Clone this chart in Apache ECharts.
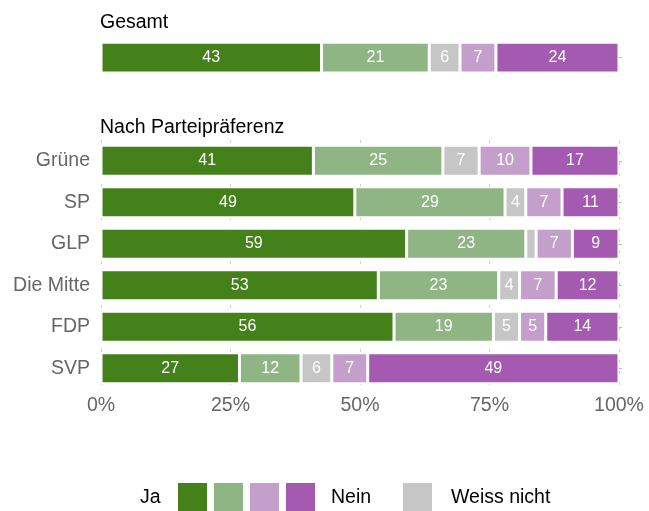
<!DOCTYPE html>
<html><head><meta charset="utf-8">
<script src="https://cdn.jsdelivr.net/npm/echarts@6/dist/echarts.min.js"></script>
<style>html,body{margin:0;padding:0;background:#fff}#c{width:649px;height:511px}</style>
</head><body><div id="c"></div>
<script>
const groupNames = ['Ja', 'eher Ja', 'Weiss nicht', 'eher Nein', 'Nein'];
const colors = ['#44811a', '#8fb584', '#c6c6c6', '#c59fcb', '#a35ab0'];
const totalCategories = ['Gesamt'];
const totalValues = [[43], [21], [6], [7], [24]];
const partyCategories = ['Grüne', 'SP', 'GLP', 'Die Mitte', 'FDP', 'SVP'];
const partyValues = [
  [41, 49, 59, 53, 56, 27],
  [25, 29, 23, 23, 19, 12],
  [7, 4, 2, 4, 5, 6],
  [10, 7, 7, 7, 5, 7],
  [17, 11, 9, 12, 14, 49]
];
const xTicks = [0, 25, 50, 75, 100];

const FONT = '"Liberation Sans", Arial, sans-serif';
const FS = 19.5;
function shares(vals) {
  const n = vals[0].length;
  const sums = [];
  for (let i = 0; i < n; i++) { let s = 0; vals.forEach(v => s += v[i]); sums.push(s); }
  return vals.map(v => v.map((x, i) => ({ value: x / sums[i] * 100, raw: x })));
}
function makeSeries(vals, idx) {
  const sh = shares(vals);
  return sh.map((d, k) => ({
    name: groupNames[k], type: 'bar', stack: 's' + idx,
    xAxisIndex: idx, yAxisIndex: idx * 2,
    barCategoryGap: '25%',
    itemStyle: { color: colors[k], borderColor: '#fff', borderWidth: 1.5 },
    label: { show: true, position: 'inside', color: '#fff', fontSize: 16, fontFamily: FONT,
      formatter: p => p.data.raw >= 3 ? String(p.data.raw) : '' },
    data: d
  }));
}
function xAxis(grid, showLabels) {
  return {
    type: 'value', gridIndex: grid, min: xTicks[0], max: xTicks[xTicks.length - 1], interval: 25,
    axisLine: { show: false }, axisTick: { show: false },
    axisLabel: { show: showLabels, formatter: '{value}%', color: '#666', fontSize: FS, fontFamily: FONT, margin: 7 },
    splitLine: { show: showLabels, lineStyle: { color: '#cfcfcf', type: [3, 8], width: 1 } }
  };
}
function yAxes(grid, cats) {
  return [{
    type: 'category', gridIndex: grid, data: cats, inverse: true,
    axisLine: { show: false }, axisTick: { show: false },
    axisLabel: { show: grid === 1, color: '#666', fontSize: FS, fontFamily: FONT, margin: 11 }
  }, {
    type: 'category', gridIndex: grid, data: cats, inverse: true, position: 'right',
    axisLine: { show: false }, axisLabel: { show: false },
    axisTick: { show: true, length: 3, alignWithLabel: true, lineStyle: { color: '#bbb' } }
  }];
}
const chart = echarts.init(document.getElementById('c'));
const legendItems = [];
const sq = [178, 214, 250, 286];
const sqColors = [colors[0], colors[1], colors[3], colors[4]];
sq.forEach((x, i) => legendItems.push({ type: 'rect', shape: { x: x, y: 483, width: 29, height: 29 }, style: { fill: sqColors[i] } }));
legendItems.push({ type: 'rect', shape: { x: 403, y: 483, width: 29, height: 29 }, style: { fill: colors[2] } });
legendItems.push({ type: 'text', x: 140, y: 498, style: { text: 'Ja', fill: '#000', fontSize: FS, fontFamily: FONT, verticalAlign: 'middle' } });
legendItems.push({ type: 'text', x: 331, y: 498, style: { text: 'Nein', fill: '#000', fontSize: FS, fontFamily: FONT, verticalAlign: 'middle' } });
legendItems.push({ type: 'text', x: 451, y: 498, style: { text: 'Weiss nicht', fill: '#000', fontSize: FS, fontFamily: FONT, verticalAlign: 'middle' } });

chart.setOption({
  animation: false,
  title: [
    { text: 'Gesamt', left: 95, top: 8, textStyle: { fontSize: FS, fontWeight: 'normal', color: '#000', fontFamily: FONT } },
    { text: 'Nach Parteipräferenz', left: 95, top: 113, textStyle: { fontSize: FS, fontWeight: 'normal', color: '#000', fontFamily: FONT } }
  ],
  grid: [
    { left: 101, right: 30, top: 37, height: 41 },
    { left: 101, right: 30, top: 140, height: 249 }
  ],
  xAxis: [xAxis(0, false), xAxis(1, true)],
  yAxis: yAxes(0, totalCategories).concat(yAxes(1, partyCategories)),
  series: makeSeries(totalValues, 0).concat(makeSeries(partyValues, 1)),
  graphic: legendItems
});
</script></body></html>
